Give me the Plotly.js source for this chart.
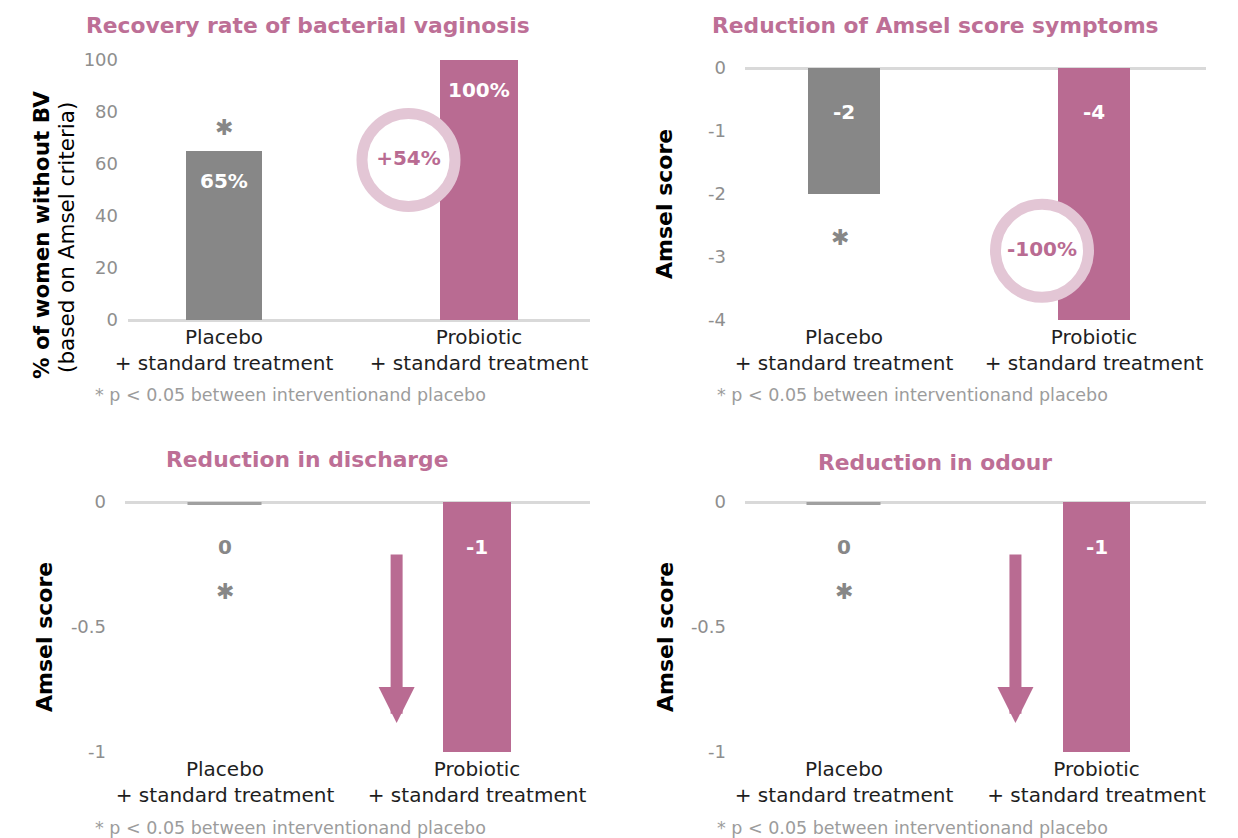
<!DOCTYPE html>
<html>
<head>
<meta charset="utf-8">
<script src="https://cdn.plot.ly/plotly-3.0.1.min.js"></script>
<style>
  html, body { margin: 0; padding: 0; background: #ffffff; }
  #chart { width: 1238px; height: 838px; }
</style>
</head>
<body>
<div id="chart"></div>
<script>
// ---- data ----
const groups = ['Placebo', 'Probiotic'];
const groupSub = '+ standard treatment';
const recoveryRate = [65, 100];      // % of women without BV
const amselChange = [-2, -4];        // change in Amsel score
const dischargeChange = [0, -1];     // change in discharge score
const odourChange = [0, -1];         // change in odour score
const recoveryTicks = [0, 20, 40, 60, 80, 100];
const amselTicks = [0, -1, -2, -3, -4];
const symptomTicks = [0, -0.5, -1];
const panelTitles = [
  'Recovery rate of bacterial vaginosis',
  'Reduction of Amsel score symptoms',
  'Reduction in discharge',
  'Reduction in odour'
];
const footnote = '* p < 0.05 between interventionand placebo';

// ---- styling ----
const W = 1238, H = 838;
const px = v => v / W;
const py = v => 1 - v / H;
const FONT = 'DejaVu Sans';
const GRAY = '#878787';
const STRIP = '#a0a0a0';
const PINK = '#b96b92';
const RING = '#e3c6d5';
const TITLE_PINK = '#bd6f96';
const TICK = '#8e8e8e';
const FOOT = '#9c9c9c';
const INK = '#1e1e1e';
const ZERO = '#d9d9d9';

// panel geometry (pixel boxes) and decorations
const panels = [
  {
    values: recoveryRate, ticks: recoveryTicks, range: [0, 100], suffix: '%',
    box: {l: 128, r: 590, t: 60, b: 320}, centers: [224, 479], widths: [0.298, 0.306],
    labelAt: 'end', labelShift: -30, labelColors: ['#ffffff', '#ffffff'],
    star: {x: 0, shift: 24}, tickGap: 9,
    title: {x: 308, y: 26},
    ytitle: [
      {text: '<b>% of women without BV</b>', x: 41, y: 235, size: 21.5},
      {text: '(based on Amsel criteria)', x: 66, y: 238, size: 21.5}
    ],
    foot: {x: 93, y: 395},
    callout: {x: 0.7235, y: 61.5}
  },
  {
    values: amselChange, ticks: amselTicks, range: [-4, 0], suffix: '',
    box: {l: 745, r: 1206, t: 68, b: 320}, centers: [844, 1094], widths: [0.288, 0.288],
    labelAt: 'base', labelShift: -44, labelColors: ['#ffffff', '#ffffff'],
    star: {x: -0.015, shift: -43}, tickGap: 18,
    title: {x: 935, y: 26},
    ytitle: [{text: '<b>Amsel score</b>', x: 665, y: 204, size: 22}],
    foot: {x: 715, y: 395},
    callout: {x: 0.792, y: -2.9}
  },
  {
    values: dischargeChange, ticks: symptomTicks, range: [-1, 0], suffix: '',
    box: {l: 125, r: 590, t: 502, b: 752}, centers: [225, 477], widths: [0.294, 0.266],
    labelAt: 'base', labelShift: -45, labelColors: [GRAY, '#ffffff'],
    star: {x: 0, shift: -89}, tickGap: 18,
    title: {x: 307, y: 459},
    ytitle: [{text: '<b>Amsel score</b>', x: 44, y: 637, size: 22}],
    foot: {x: 93, y: 828},
    arrow: {x: 0.681, from: -0.204, to: -0.884}
  },
  {
    values: odourChange, ticks: symptomTicks, range: [-1, 0], suffix: '',
    box: {l: 745, r: 1206, t: 502, b: 752}, centers: [844, 1096.5], widths: [0.293, 0.265],
    labelAt: 'base', labelShift: -45, labelColors: [GRAY, '#ffffff'],
    star: {x: 0, shift: -89}, tickGap: 18,
    title: {x: 935, y: 462},
    ytitle: [{text: '<b>Amsel score</b>', x: 665, y: 637, size: 22}],
    foot: {x: 715, y: 828},
    arrow: {x: 0.679, from: -0.204, to: -0.884}
  }
];

const traces = [];
const annotations = [];
const layout = {
  width: W, height: H,
  margin: {l: 0, r: 0, t: 0, b: 0},
  paper_bgcolor: '#ffffff', plot_bgcolor: 'rgba(0,0,0,0)',
  showlegend: false,
  font: {family: FONT, color: INK},
  bargap: 0
};

panels.forEach((p, k) => {
  const n = k === 0 ? '' : String(k + 1);
  const xa = 'x' + n, ya = 'y' + n;
  const unit = p.centers[1] - p.centers[0];
  const xRange = [-(p.centers[0] - p.box.l) / unit, 1 + (p.box.r - p.centers[1]) / unit];

  layout['xaxis' + n] = {
    domain: [px(p.box.l), px(p.box.r)], range: xRange, anchor: ya,
    tickvals: [0, 1], ticktext: groups.map(g => g + '<br>' + groupSub),
    tickfont: {family: FONT, size: 20, color: INK},
    ticks: '', showgrid: false, zeroline: false, showline: false,
    ticklabelstandoff: 3, fixedrange: true
  };
  layout['yaxis' + n] = {
    domain: [py(p.box.b), py(p.box.t)], range: p.range, anchor: xa,
    tickvals: p.ticks, ticktext: p.ticks.map(String),
    tickfont: {family: FONT, size: 18, color: TICK},
    ticks: '', showgrid: false, showline: false,
    zeroline: true, zerolinecolor: ZERO, zerolinewidth: 3,
    ticklabelstandoff: p.tickGap, fixedrange: true
  };

  // bars (a zero value is drawn as a thin outline strip)
  traces.push({
    type: 'bar', x: [0, 1], y: p.values, width: p.widths,
    xaxis: xa, yaxis: ya,
    marker: {
      color: p.values.map((v, i) => i === 0 ? (v === 0 ? STRIP : GRAY) : PINK),
      line: {
        color: p.values.map(v => v === 0 ? STRIP : 'rgba(0,0,0,0)'),
        width: p.values.map(v => v === 0 ? 7 : 0)
      }
    },
    hoverinfo: 'skip'
  });

  // value labels
  p.values.forEach((v, i) => {
    annotations.push({
      xref: xa, yref: ya, x: i, y: p.labelAt === 'end' ? v : 0, yshift: p.labelShift,
      text: '<b>' + String(v) + p.suffix + '</b>', showarrow: false,
      font: {family: FONT, size: 20, color: p.labelColors[i]},
      xanchor: 'center', yanchor: 'middle'
    });
  });

  // significance marker on placebo
  annotations.push({
    xref: xa, yref: ya, x: p.star.x, y: p.values[0], yshift: p.star.shift,
    text: '\u2731', showarrow: false,
    font: {family: FONT, size: 22, color: GRAY},
    xanchor: 'center', yanchor: 'middle'
  });

  // panel title
  annotations.push({
    xref: 'paper', yref: 'paper', x: px(p.title.x), y: py(p.title.y),
    text: '<b>' + panelTitles[k] + '</b>', showarrow: false,
    font: {family: FONT, size: 21.8, color: TITLE_PINK},
    xanchor: 'center', yanchor: 'middle'
  });

  // y-axis title lines
  p.ytitle.forEach(t => {
    annotations.push({
      xref: 'paper', yref: 'paper', x: px(t.x), y: py(t.y),
      text: t.text, textangle: -90, showarrow: false,
      font: {family: FONT, size: t.size, color: '#000000'},
      xanchor: 'center', yanchor: 'middle'
    });
  });

  // footnote
  annotations.push({
    xref: 'paper', yref: 'paper', x: px(p.foot.x), y: py(p.foot.y),
    text: footnote, showarrow: false,
    font: {family: FONT, size: 17.5, color: FOOT},
    xanchor: 'left', yanchor: 'middle'
  });

  // relative change callout
  if (p.callout) {
    const change = Math.round((p.values[1] - p.values[0]) / Math.abs(p.values[0]) * 100);
    traces.push({
      type: 'scatter', mode: 'markers+text', x: [p.callout.x], y: [p.callout.y],
      xaxis: xa, yaxis: ya, cliponaxis: false,
      marker: {size: 93, color: '#ffffff', line: {color: RING, width: 11}},
      text: ['<b>' + (change > 0 ? '+' : '') + change + '%</b>'],
      textposition: 'middle center',
      textfont: {family: FONT, size: 20, color: PINK},
      hoverinfo: 'skip'
    });
  }

  // downward arrow
  if (p.arrow) {
    annotations.push({
      xref: xa, yref: ya, axref: xa, ayref: ya,
      x: p.arrow.x, y: p.arrow.to, ax: p.arrow.x, ay: p.arrow.from,
      text: '', showarrow: true, arrowhead: 2, arrowsize: 0.6, arrowwidth: 12,
      arrowcolor: PINK
    });
  }
});

layout.annotations = annotations;

Plotly.newPlot('chart', traces, layout, {displayModeBar: false, responsive: false});
</script>
</body>
</html>
